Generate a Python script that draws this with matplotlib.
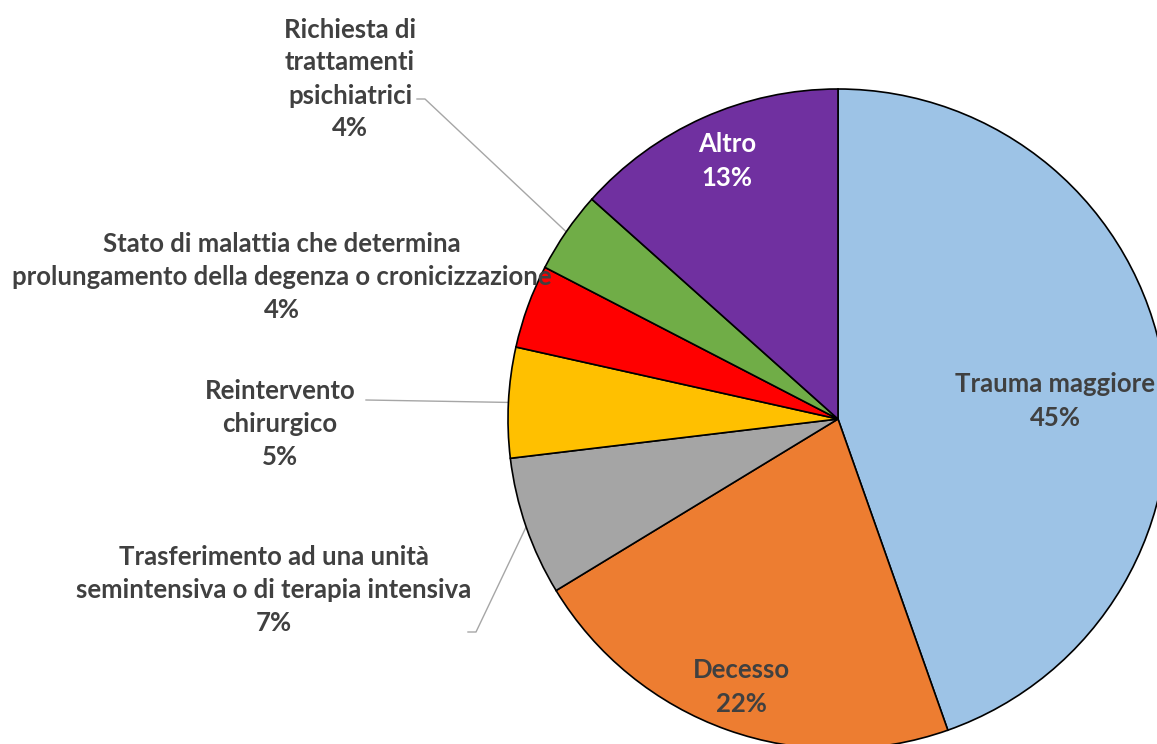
import numpy as np
import matplotlib
matplotlib.use('Agg')
import matplotlib.pyplot as plt

categories = ['Trauma maggiore', 'Decesso',
              'Trasferimento ad una unità\nsemintensiva o di terapia intensiva',
              'Reintervento\nchirurgico',
              'Stato di malattia che determina\nprolungamento della degenza o cronicizzazione',
              'Richiesta di\ntrattamenti\npsichiatrici',
              'Altro']
values = [44.6, 21.7, 6.8, 5.4, 4.1, 4.0, 13.4]
colors = ['#9DC3E6', '#ED7D31', '#A5A5A5', '#FFC000', '#FF0000', '#70AD47', '#7030A0']

W, H = 1157, 744
fig = plt.figure(figsize=(W / 100, H / 100), dpi=100)
ax = fig.add_axes([0, 0, 1, 1])

cx, cy, r = 838, H - 419, 330
wedges, _ = ax.pie(values, colors=colors, startangle=90, counterclock=False,
                   center=(cx, cy), radius=r, frame=True,
                   wedgeprops=dict(edgecolor='black', linewidth=1.2))
ax.set_xlim(0, W)
ax.set_ylim(0, H)
ax.set_aspect('equal')
ax.axis('off')

txt = '#404040'
font = dict(family='Lato', weight='bold', fontsize=18.5, ha='center', va='center',
            linespacing=1.45)

# label centres in image pixels (x, y from top), text colour, leader line points
label_pos = [(1055, 401, txt, None),
             (741, 687, txt, None),
             (274, 590, txt, [(468, 632), (476, 632)]),
             (280, 424, txt, [(366, 400)]),
             (282, 277, txt, None),
             (350, 79, txt, [(417, 99), (425, 99)]),
             (727, 161, 'white', None)]

for w, cat, v, (lx, ly, c, lead) in zip(wedges, categories, values, label_pos):
    ax.text(lx, H - ly, f'{cat}\n{round(v)}%', color=c, **font)
    if lead is not None:
        mid = np.deg2rad((w.theta1 + w.theta2) / 2)
        ex, ey = cx + r * np.cos(mid), cy + r * np.sin(mid)
        xs = [p[0] for p in lead] + [ex]
        ys = [H - p[1] for p in lead] + [ey]
        ax.plot(xs, ys, color='#A6A6A6', lw=1.0, zorder=0.5)

fig.savefig('out.png', dpi=100, facecolor='white')
